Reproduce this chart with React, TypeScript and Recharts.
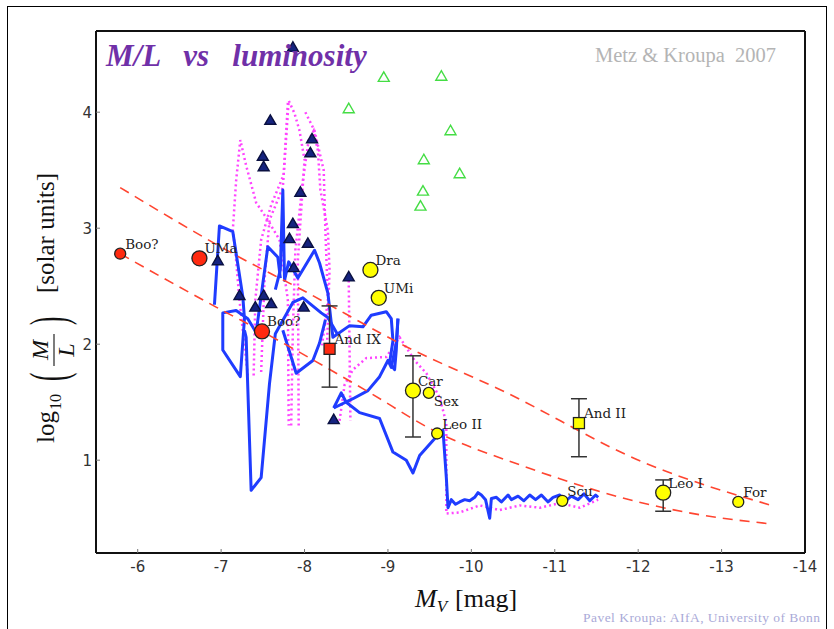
import React from 'react';
import { ComposedChart, Line, Scatter, XAxis, YAxis, ErrorBar } from 'recharts';

const xTicks = [-6, -7, -8, -9, -10, -11, -12, -13, -14];
const yTicks = [1, 2, 3, 4];

// red dashed envelopes
const upperEnvelope = [
  { x: -5.79, y: 3.35 }, { x: -7.22, y: 2.75 }, { x: -7.94, y: 2.48 }, { x: -9.3, y: 1.95 },
  { x: -10.34, y: 1.61 }, { x: -12.1, y: 0.97 }, { x: -13.6, y: 0.61 },
];
const lowerEnvelope = [
  { x: -5.79, y: 2.78 }, { x: -6.94, y: 2.32 }, { x: -7.49, y: 2.11 }, { x: -8.74, y: 1.6 },
  { x: -9.59, y: 1.24 }, { x: -10.58, y: 0.96 }, { x: -11.06, y: 0.84 }, { x: -11.54, y: 0.73 },
  { x: -12.58, y: 0.55 }, { x: -13.6, y: 0.45 },
];

// blue model tracks
const blueLoop = [
  { x: -6.92, y: 2.34 }, { x: -6.98, y: 3.02 }, { x: -7.14, y: 2.97 }, { x: -7.26, y: 2.41 },
  { x: -7.28, y: 2.22 }, { x: -7.23, y: 1.72 }, { x: -7.02, y: 1.95 }, { x: -7.02, y: 2.27 },
  { x: -7.18, y: 2.29 }, { x: -7.32, y: 2.22 }, { x: -7.42, y: 2.1 }, { x: -7.56, y: 2.84 },
  { x: -7.68, y: 2.75 }, { x: -7.71, y: 2.57 },
];
const blueSpike = [
  { x: -7.65, y: 2.47 }, { x: -7.71, y: 2.64 }, { x: -7.74, y: 3.33 }, { x: -7.76, y: 2.55 },
  { x: -7.81, y: 2.71 }, { x: -7.92, y: 2.57 }, { x: -8.12, y: 2.81 }, { x: -8.18, y: 2.7 },
  { x: -8.28, y: 2.44 }, { x: -8.34, y: 2.06 }, { x: -8.54, y: 2.16 }, { x: -8.7, y: 2.15 },
  { x: -8.8, y: 2.25 }, { x: -8.98, y: 2.28 }, { x: -9.04, y: 2.22 }, { x: -9.06, y: 2.03 },
  { x: -9.02, y: 1.84 }, { x: -9.08, y: 1.78 }, { x: -9.1, y: 1.95 }, { x: -9.12, y: 2.22 },
];
const blueDip = [
  { x: -7.28, y: 2.12 }, { x: -7.3, y: 2.06 }, { x: -7.36, y: 0.74 }, { x: -7.48, y: 0.85 },
  { x: -7.58, y: 1.66 }, { x: -7.65, y: 2.09 }, { x: -7.86, y: 2.36 }, { x: -7.98, y: 2.4 },
  { x: -8.2, y: 2.27 }, { x: -8.28, y: 2.23 }, { x: -8.4, y: 2.08 },
];
const blueZig = [
  { x: -7.74, y: 2.12 }, { x: -7.9, y: 1.75 }, { x: -8.1, y: 1.86 }, { x: -8.18, y: 2.01 },
  { x: -8.25, y: 2.21 },
];
const blueLong = [
  { x: -8.35, y: 1.45 }, { x: -8.44, y: 1.58 }, { x: -8.5, y: 1.5 }, { x: -8.66, y: 1.41 },
  { x: -8.9, y: 1.36 }, { x: -9.06, y: 1.07 }, { x: -9.22, y: 1.0 }, { x: -9.3, y: 0.89 },
  { x: -9.38, y: 1.04 }, { x: -9.54, y: 1.17 }, { x: -9.66, y: 1.26 }, { x: -9.7, y: 0.85 },
  { x: -9.72, y: 0.59 }, { x: -9.76, y: 0.66 }, { x: -9.81, y: 0.62 }, { x: -9.86, y: 0.64 },
  { x: -9.92, y: 0.66 }, { x: -9.98, y: 0.65 }, { x: -10.04, y: 0.68 }, { x: -10.08, y: 0.72 },
  { x: -10.12, y: 0.7 }, { x: -10.17, y: 0.66 }, { x: -10.22, y: 0.5 }, { x: -10.24, y: 0.67 },
  { x: -10.3, y: 0.68 }, { x: -10.36, y: 0.64 }, { x: -10.44, y: 0.7 }, { x: -10.48, y: 0.66 },
  { x: -10.56, y: 0.69 }, { x: -10.63, y: 0.65 }, { x: -10.7, y: 0.7 }, { x: -10.77, y: 0.66 },
  { x: -10.84, y: 0.7 }, { x: -10.92, y: 0.64 }, { x: -10.98, y: 0.68 }, { x: -11.06, y: 0.7 },
  { x: -11.13, y: 0.65 }, { x: -11.2, y: 0.69 }, { x: -11.28, y: 0.66 }, { x: -11.35, y: 0.71 },
  { x: -11.42, y: 0.65 }, { x: -11.49, y: 0.7 }, { x: -11.52, y: 0.68 },
];
const blueBranch = [
  { x: -8.35, y: 1.45 }, { x: -8.58, y: 1.53 }, { x: -8.76, y: 1.6 }, { x: -8.9, y: 1.72 },
  { x: -9.0, y: 1.86 }, { x: -9.04, y: 1.8 }, { x: -9.1, y: 2.01 }, { x: -9.12, y: 2.22 },
];

// magenta dotted model tracks
const pinkA = [
  { x: -7.32, y: 1.73 }, { x: -7.22, y: 2.38 }, { x: -7.17, y: 2.81 }, { x: -7.14, y: 2.98 },
  { x: -7.18, y: 3.41 }, { x: -7.23, y: 3.76 }, { x: -7.3, y: 3.54 }, { x: -7.42, y: 3.22 },
  { x: -7.56, y: 3.07 }, { x: -7.7, y: 2.9 }, { x: -7.8, y: 2.38 }, { x: -7.81, y: 1.3 },
];
const pinkB = [
  { x: -7.48, y: 1.76 }, { x: -7.52, y: 2.55 }, { x: -7.58, y: 3.07 }, { x: -7.74, y: 3.35 },
  { x: -7.81, y: 4.1 }, { x: -7.88, y: 3.99 }, { x: -7.94, y: 3.84 }, { x: -8.0, y: 3.59 },
  { x: -7.92, y: 2.72 }, { x: -7.93, y: 1.3 },
];
const pinkC = [
  { x: -8.01, y: 4.0 }, { x: -8.12, y: 3.84 }, { x: -8.23, y: 3.5 }, { x: -8.25, y: 2.98 },
  { x: -8.28, y: 2.38 }, { x: -8.21, y: 1.99 },
];
const pinkD = [{ x: -8.53, y: 2.55 }, { x: -8.55, y: 1.34 }];
const pinkE = [
  { x: -8.42, y: 1.34 }, { x: -8.48, y: 1.65 }, { x: -8.58, y: 1.78 }, { x: -8.74, y: 1.88 },
  { x: -8.98, y: 1.89 }, { x: -9.14, y: 2.06 }, { x: -9.32, y: 1.86 }, { x: -9.46, y: 1.75 },
  { x: -9.62, y: 1.54 }, { x: -9.7, y: 1.32 }, { x: -9.7, y: 0.54 }, { x: -9.86, y: 0.55 },
  { x: -10.1, y: 0.61 }, { x: -10.34, y: 0.57 }, { x: -10.58, y: 0.61 }, { x: -10.82, y: 0.59 },
  { x: -11.06, y: 0.63 }, { x: -11.3, y: 0.59 }, { x: -11.52, y: 0.66 },
];
const pinkF = [
  { x: -7.39, y: 1.73 }, { x: -7.41, y: 2.38 }, { x: -7.48, y: 2.9 }, { x: -7.6, y: 3.2 },
  { x: -7.75, y: 3.46 }, { x: -7.8, y: 4.08 },
];
const pinkG = [
  { x: -7.84, y: 1.3 }, { x: -7.86, y: 2.12 }, { x: -7.89, y: 2.81 }, { x: -7.98, y: 3.41 },
  { x: -8.05, y: 3.76 }, { x: -8.11, y: 3.84 }, { x: -8.16, y: 3.67 }, { x: -8.19, y: 3.33 },
  { x: -8.28, y: 2.98 }, { x: -8.3, y: 2.64 }, { x: -8.27, y: 1.99 },
];

// observed dwarfs
const redSmall = [{ name: 'Boo?', x: -5.79, y: 2.78 }];
const redLarge = [
  { name: 'UMa', x: -6.74, y: 2.74 },
  { name: 'Boo?', x: -7.49, y: 2.11 },
];
const yellowLarge = [
  { name: 'Dra', x: -8.79, y: 2.64 },
  { name: 'UMi', x: -8.89, y: 2.4 },
  { name: 'Car', x: -9.3, y: 1.6 },
  { name: 'Leo I', x: -12.3, y: 0.72 },
];
const yellowSmall = [
  { name: 'Sex', x: -9.49, y: 1.58 },
  { name: 'Leo II', x: -9.59, y: 1.23 },
  { name: 'Scu', x: -11.09, y: 0.65 },
  { name: 'For', x: -13.2, y: 0.64 },
];
const redSquares = [{ name: 'And IX', x: -8.3, y: 1.96 }];
const yellowSquares = [{ name: 'And II', x: -11.29, y: 1.32 }];
const errorPoints = [
  { x: -8.3, y: 1.96, err: [0.33, 0.37] },
  { x: -9.3, y: 1.6, err: [0.4, 0.3] },
  { x: -11.29, y: 1.32, err: [0.29, 0.21] },
  { x: -12.3, y: 0.72, err: [0.16, 0.11] },
];
const labelsBelow = ['Sex'];

const navyTriangles = [
  { x: -7.86, y: 4.56 }, { x: -7.59, y: 3.93 }, { x: -7.5, y: 3.62 }, { x: -7.51, y: 3.53 },
  { x: -8.09, y: 3.77 }, { x: -8.07, y: 3.65 }, { x: -7.95, y: 3.31 }, { x: -7.86, y: 3.04 },
  { x: -7.82, y: 2.91 }, { x: -8.04, y: 2.87 }, { x: -6.96, y: 2.72 }, { x: -7.87, y: 2.66 },
  { x: -8.53, y: 2.58 }, { x: -7.22, y: 2.42 }, { x: -7.51, y: 2.42 }, { x: -7.41, y: 2.32 },
  { x: -7.6, y: 2.35 }, { x: -7.99, y: 2.32 }, { x: -8.35, y: 1.35 },
];
const greenTriangles = [
  { x: -8.95, y: 4.3 }, { x: -9.64, y: 4.31 }, { x: -8.53, y: 4.03 }, { x: -9.75, y: 3.84 },
  { x: -9.43, y: 3.59 }, { x: -9.86, y: 3.47 }, { x: -9.42, y: 3.32 }, { x: -9.39, y: 3.19 },
];

const pointLabel = (cx: number, cy: number, name?: string) => {
  if (!name) return null;
  const below = labelsBelow.includes(name);
  return (
    <text x={cx + 5} y={below ? cy + 13 : cy - 5} fontFamily="DejaVu Serif" fontSize={13.5} fill="#222">
      {name}
    </text>
  );
};

const dot = (r: number, fill: string) => (props: any) => (
  <g>
    <circle cx={props.cx} cy={props.cy} r={r} fill={fill} stroke="#222" strokeWidth={1.3} />
    {pointLabel(props.cx, props.cy, props.payload?.name)}
  </g>
);

const square = (fill: string) => (props: any) => (
  <g>
    <rect x={props.cx - 5.5} y={props.cy - 5.5} width={11} height={11} fill={fill} stroke="#222" strokeWidth={1.3} />
    {pointLabel(props.cx, props.cy, props.payload?.name)}
  </g>
);

const triangle = (fill: string, stroke: string) => (props: any) => (
  <polygon
    points={`${props.cx},${props.cy - 5.5} ${props.cx - 5.5},${props.cy + 4} ${props.cx + 5.5},${props.cy + 4}`}
    fill={fill}
    stroke={stroke}
    strokeWidth={1.4}
  />
);

const noMark = () => <g />;

const XAxisTitle = (props: any) => {
  const vb = props.viewBox;
  return (
    <text x={vb.x + 319} y={vb.y + 54} fontFamily="Liberation Serif" fontSize={26} fill="#111">
      <tspan fontStyle="italic">M</tspan>
      <tspan fontStyle="italic" fontSize={17} dy={5}>V</tspan>
      <tspan dy={-5} dx={8}>[mag]</tspan>
    </text>
  );
};

const YAxisTitle = (props: any) => {
  const vb = props.viewBox;
  const ox = vb.x - 2;
  const oy = vb.y + vb.height - 110;
  return (
    <g transform={`translate(${ox},${oy}) rotate(-90)`} fontFamily="Liberation Serif" fill="#111">
      <text x={0} y={0} fontSize={25}>log</text>
      <text x={33} y={7} fontSize={16}>10</text>
      <text transform="translate(62,12) scale(1,2.1)" fontSize={25}>(</text>
      <text x={93} y={-6} fontSize={24} fontStyle="italic" textAnchor="middle">M</text>
      <line x1={77} x2={109} y1={0} y2={0} stroke="#111" strokeWidth={1.1} />
      <text x={93} y={20} fontSize={24} fontStyle="italic" textAnchor="middle">L</text>
      <text transform="translate(118,12) scale(1,2.1)" fontSize={25}>)</text>
      <text x={150} y={0} fontSize={25}>[solar units]</text>
    </g>
  );
};

const tickFont = { fill: '#333', fontSize: 15, fontFamily: 'DejaVu Sans' };
const frame = { stroke: '#111', strokeWidth: 2 };

export default function App() {
  return (
    <div style={{ position: 'absolute', left: 0, top: 0, width: 834, height: 629, background: '#fff' }}>
      <div
        style={{
          position: 'absolute', left: 7, top: 6, width: 820, height: 623,
          borderLeft: '1.5px solid #000', borderTop: '1.5px solid #000', borderRight: '1.5px solid #000',
          boxSizing: 'border-box',
        }}
      />
      <ComposedChart width={834} height={629} margin={{ top: 30, right: 28, bottom: 46, left: 56 }}>
        <XAxis
          type="number" dataKey="x" domain={[-14, -5.5]} reversed allowDataOverflow ticks={xTicks} interval={0}
          height={30} axisLine={frame} tickLine={{ stroke: '#777' }} tickSize={-4} tickMargin={12} tick={tickFont}
          label={XAxisTitle}
        />
        <XAxis
          xAxisId="top" orientation="top" type="number" dataKey="x" domain={[-14, -5.5]} reversed allowDataOverflow
          ticks={xTicks} interval={0} height={1} axisLine={frame} tickLine={{ stroke: '#777' }} tickSize={-4} tick={false}
        />
        <YAxis
          type="number" domain={[0.2, 4.7]} allowDataOverflow ticks={yTicks} interval={0} width={40}
          axisLine={frame} tickLine={{ stroke: '#777' }} tickSize={-4} tickMargin={8} tick={tickFont}
          label={YAxisTitle}
        />
        <YAxis
          yAxisId="right" orientation="right" type="number" domain={[0.2, 4.7]} allowDataOverflow ticks={yTicks}
          interval={0} width={1} axisLine={frame} tickLine={{ stroke: '#777' }} tickSize={-4} tick={false}
        />

        {[pinkA, pinkB, pinkC, pinkD, pinkE, pinkF, pinkG].map((d, i) => (
          <Line key={'p' + i} data={d} dataKey="y" type="linear" stroke="#ff44ff" strokeWidth={2.5}
            strokeDasharray="2 3" dot={false} isAnimationActive={false} />
        ))}
        {[blueLoop, blueSpike, blueDip, blueZig, blueLong, blueBranch].map((d, i) => (
          <Line key={'b' + i} data={d} dataKey="y" type="linear" stroke="#1f3cff" strokeWidth={3}
            strokeLinejoin="round" dot={false} isAnimationActive={false} />
        ))}
        <Line data={upperEnvelope} dataKey="y" type="monotone" stroke="#ff4530" strokeWidth={1.6}
          strokeDasharray="10 7" dot={false} isAnimationActive={false} />
        <Line data={lowerEnvelope} dataKey="y" type="monotone" stroke="#ff4530" strokeWidth={1.6}
          strokeDasharray="10 7" dot={false} isAnimationActive={false} />

        <Scatter data={navyTriangles} dataKey="y" shape={triangle('#15237f', '#0a1040')} isAnimationActive={false} />
        <Scatter data={greenTriangles} dataKey="y" shape={triangle('#ffffff', '#44dd44')} isAnimationActive={false} />
        <Scatter data={errorPoints} dataKey="y" shape={noMark} isAnimationActive={false}>
          <ErrorBar dataKey="err" direction="y" width={8} stroke="#333" strokeWidth={1.5} />
        </Scatter>
        <Scatter data={redSmall} dataKey="y" shape={dot(5.5, '#ff2a10')} isAnimationActive={false} />
        <Scatter data={redLarge} dataKey="y" shape={dot(7.5, '#ff2a10')} isAnimationActive={false} />
        <Scatter data={yellowLarge} dataKey="y" shape={dot(7.5, '#ffff00')} isAnimationActive={false} />
        <Scatter data={yellowSmall} dataKey="y" shape={dot(5.5, '#ffff00')} isAnimationActive={false} />
        <Scatter data={redSquares} dataKey="y" shape={square('#ff2a10')} isAnimationActive={false} />
        <Scatter data={yellowSquares} dataKey="y" shape={square('#ffff00')} isAnimationActive={false} />
      </ComposedChart>
      <svg width={834} height={629} style={{ position: 'absolute', left: 0, top: 0, pointerEvents: 'none' }}>
        <text x={106} y={66} fontFamily="Liberation Serif" fontSize={31} fontWeight="bold" fontStyle="italic"
          fill="#7030a8" style={{ whiteSpace: 'pre' }}>
          {'M/L   vs   luminosity'}
        </text>
        <text x={595} y={62} fontFamily="Liberation Serif" fontSize={20.5} fill="#b4b4b4" style={{ whiteSpace: 'pre' }}>
          {'Metz & Kroupa  2007'}
        </text>
        <text x={583} y={622} fontFamily="Liberation Serif" fontSize={13.5} fill="#aaaad8" textLength={237}>
          Pavel Kroupa: AIfA, University of Bonn
        </text>
      </svg>
    </div>
  );
}
